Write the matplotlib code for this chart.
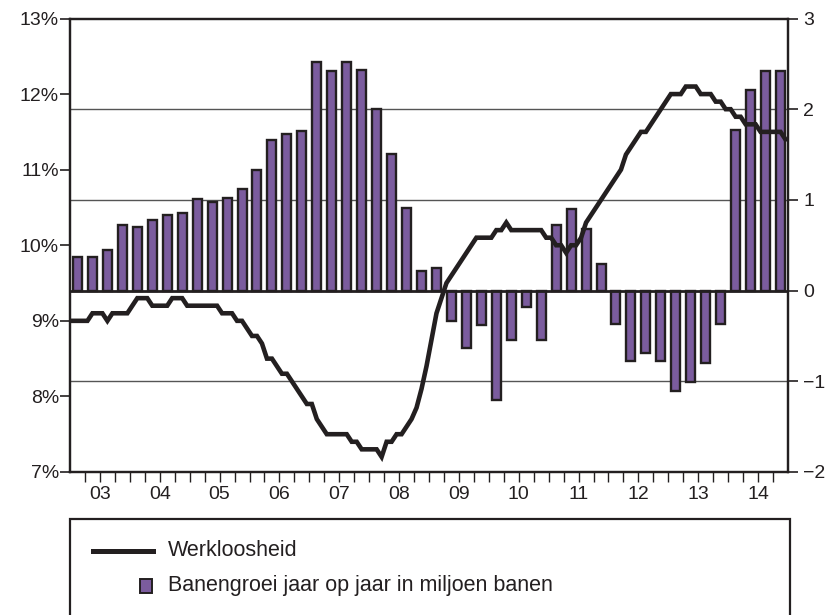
import numpy as np
import matplotlib.pyplot as plt
from matplotlib.patches import Rectangle
from matplotlib.lines import Line2D

plt.rcParams['font.family'] = ['Liberation Sans', 'DejaVu Sans']

# jaartallen (labels onder de as)
years = ['03', '04', '05', '06', '07', '08', '09', '10', '11', '12', '13', '14']

# banengroei jaar op jaar, per kwartaal, in miljoen banen (rechteras)
banengroei = [0.37, 0.37, 0.45, 0.72, 0.70, 0.78, 0.83, 0.86,
              1.01, 0.98, 1.02, 1.12, 1.33, 1.66, 1.73, 1.76,
              2.52, 2.42, 2.52, 2.43, 2.00, 1.51, 0.91, 0.22,
              0.25, -0.34, -0.63, -0.38, -1.21, -0.54, -0.18, -0.54,
              0.72, 0.90, 0.68, 0.29, -0.37, -0.78, -0.69, -0.78,
              -1.11, -1.01, -0.80, -0.37, 1.77, 2.21, 2.42, 2.42]

# werkloosheid per maand in % (linkeras)
werkloosheid = [9.0, 9.0, 9.0, 9.0, 9.1, 9.1, 9.1, 9.0, 9.1, 9.1, 9.1, 9.1,
                9.2, 9.3, 9.3, 9.3, 9.2, 9.2, 9.2, 9.2, 9.3, 9.3, 9.3, 9.2,
                9.2, 9.2, 9.2, 9.2, 9.2, 9.2, 9.1, 9.1, 9.1, 9.0, 9.0, 8.9,
                8.8, 8.8, 8.7, 8.5, 8.5, 8.4, 8.3, 8.3, 8.2, 8.1, 8.0, 7.9,
                7.9, 7.7, 7.6, 7.5, 7.5, 7.5, 7.5, 7.5, 7.4, 7.4, 7.3, 7.3,
                7.3, 7.3, 7.2, 7.4, 7.4, 7.5, 7.5, 7.6, 7.7, 7.85, 8.1, 8.4,
                8.75, 9.1, 9.3, 9.5, 9.6, 9.7, 9.8, 9.9, 10.0, 10.1, 10.1, 10.1,
                10.1, 10.2, 10.2, 10.3, 10.2, 10.2, 10.2, 10.2, 10.2, 10.2, 10.2, 10.1,
                10.1, 10.0, 10.0, 9.9, 10.0, 10.0, 10.1, 10.3, 10.4, 10.5, 10.6, 10.7,
                10.8, 10.9, 11.0, 11.2, 11.3, 11.4, 11.5, 11.5, 11.6, 11.7, 11.8, 11.9,
                12.0, 12.0, 12.0, 12.1, 12.1, 12.1, 12.0, 12.0, 12.0, 11.9, 11.9, 11.8,
                11.8, 11.7, 11.7, 11.6, 11.6, 11.6, 11.5, 11.5, 11.5, 11.5, 11.5, 11.4]

ink = '#231f20'
paars = '#7b5c9e'

W, H = 833, 615
def fx(x):
    return x / W
def fy(y):
    return 1 - y / H

fig = plt.figure(figsize=(W / 100, H / 100), dpi=100)
ax = fig.add_axes([fx(70), fy(472), (788 - 70) / W, (472 - 18.5) / H])
ax2 = ax.twinx()

q = np.arange(len(banengroei))
m = (np.arange(len(werkloosheid)) + 0.5) / 3 - 0.5

# rechteras: rasterlijnen en staven
for g in [2, 1, -1]:
    ax2.axhline(g, color='#555555', lw=1.0, zorder=1)
ax2.bar(q, banengroei, width=0.6, color=paars, edgecolor=ink, linewidth=1.7, zorder=2)
ax2.axhline(0, color=ink, lw=2.0, zorder=3)
ax2.set_ylim(-2, 3)
ax2.set_yticks([-2, -1, 0, 1, 2, 3])

# linkeras: werkloosheid boven de staven
ax.plot(m, werkloosheid, color=ink, lw=3.3, solid_joinstyle='miter', zorder=5)
ax.set_ylim(7, 13)
ax.set_yticks(range(7, 14))
ax.set_yticklabels([f'{v}%' for v in range(7, 14)])
ax.set_zorder(ax2.get_zorder() + 1)
ax.patch.set_visible(False)

# kwartaalstreepjes + jaarlabels
ax.set_xlim(-0.5, len(banengroei) - 0.5)
ax.xaxis.remove_overlapping_locs = False
ax.set_xticks(np.arange(len(years)) * 4 + 1.5)
ax.set_xticklabels(years)
ax.set_xticks(np.arange(0.5, len(banengroei) - 0.5, 1), minor=True)
ax.tick_params(axis='x', which='minor', length=7, width=1.0, color=ink, direction='out')
ax.tick_params(axis='x', which='major', length=0, pad=10, labelsize=14, labelcolor=ink)
ax.tick_params(axis='y', length=7, width=1.2, color=ink, pad=1, labelsize=14, labelcolor=ink)
ax2.tick_params(axis='y', length=7, width=1.2, color=ink, pad=4, labelsize=14, labelcolor=ink)

for a in (ax, ax2):
    for s in a.spines.values():
        s.set_color(ink)
        s.set_linewidth(1.6)

# legenda in een kader onder de grafiek
fig.patches.append(Rectangle((fx(70), fy(650)), (790 - 70) / W, (650 - 519) / H,
                             transform=fig.transFigure, fill=False, edgecolor=ink,
                             linewidth=1.6, clip_on=False))
fig.lines.append(Line2D([fx(93), fx(153)], [fy(551), fy(551)], transform=fig.transFigure,
                        color=ink, lw=3.6))
fig.text(fx(168), fy(551), 'Werkloosheid', fontsize=15.5, color=ink, va='center')
fig.patches.append(Rectangle((fx(140), fy(593)), 12 / W, 14 / H, transform=fig.transFigure,
                             facecolor=paars, edgecolor=ink, linewidth=1.4))
fig.text(fx(168), fy(586), 'Banengroei jaar op jaar in miljoen banen', fontsize=15.5,
         color=ink, va='center')

fig.savefig('out.png', dpi=100)
